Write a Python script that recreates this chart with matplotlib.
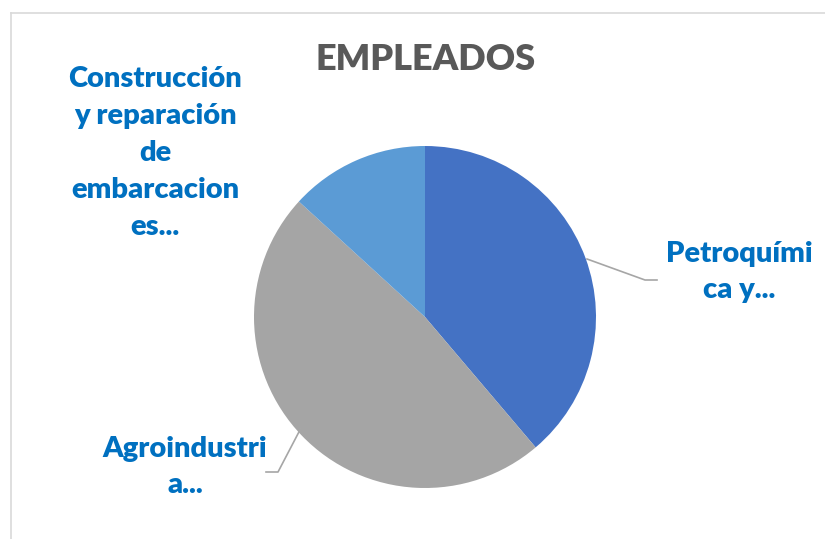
import matplotlib.pyplot as plt
from matplotlib.lines import Line2D

# --- data ---
labels = ["Petroquími\nca y...", "Agroindustri\na...",
          "Construcción\ny reparación\nde\nembarcacion\nes..."]
values = [38.8, 48.0, 13.2]
colors = ["#4472C4", "#A5A5A5", "#5B9BD5"]
title = "EMPLEADOS"
# ------------

W, H = 825, 539
fig = plt.figure(figsize=(W / 100, H / 100), dpi=100)
fig.patch.set_facecolor("white")

# chart border (light gray frame, cut at right/bottom)
fig.add_artist(Line2D([11 / W, 11 / W], [0, 1 - 13 / H], color="#D9D9D9", lw=1.2))
fig.add_artist(Line2D([11 / W, 1], [1 - 13 / H, 1 - 13 / H], color="#D9D9D9", lw=1.2))

cx, cy, r = 425, 317, 171
ax = fig.add_axes([(cx - r) / W, (H - cy - r) / H, 2 * r / W, 2 * r / H])
ax.pie(values, colors=colors, startangle=90, counterclock=False,
       wedgeprops=dict(linewidth=0))
ax.set_xlim(-1, 1)
ax.set_ylim(-1, 1)
ax.set_aspect("equal")
ax.axis("off")

def px(x, y):
    return ((x - cx) / r, (cy - y) / r)

font = dict(family=["Lato", "DejaVu Sans"], fontweight="heavy", color="#0070C0",
            fontsize=21, ha="center", va="center", linespacing=1.52)

# label positions (pixel centres)
lab_pos = [(739, 272), (185, 467), (155, 153)]
for lab, (x, y) in zip(labels, lab_pos):
    ax.text(*px(x, y), lab, clip_on=False, **font)

# leader lines
leaders = [
    [(587, 259), (645, 280), (657, 280)],
    [(301, 428), (278, 472), (266, 472)],
]
for pts in leaders:
    xs, ys = zip(*[px(x, y) for x, y in pts])
    ax.plot(xs, ys, color="#A6A6A6", lw=1.2, clip_on=False)

fig.text(426 / W, 1 - 60 / H, title, family=["Lato", "DejaVu Sans"],
         fontweight="heavy", fontsize=26, color="#595959", ha="center", va="center")

fig.savefig("out.png", dpi=100)
